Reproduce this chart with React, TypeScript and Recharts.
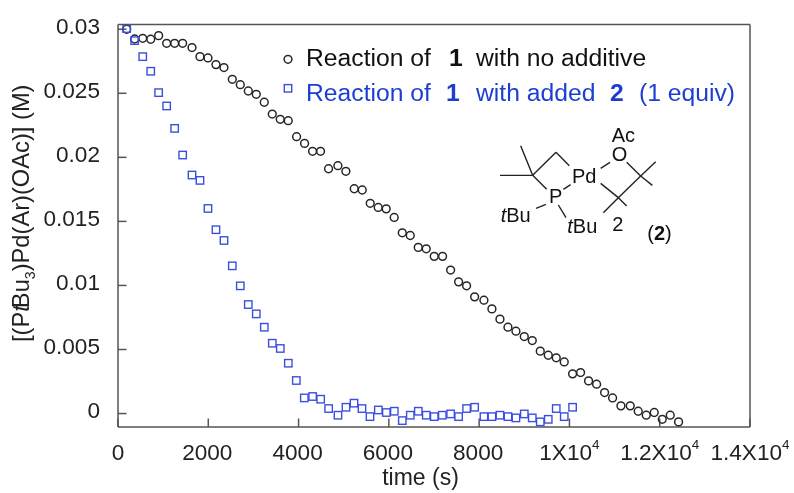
import React from 'react';
import { ScatterChart, Scatter, XAxis, YAxis } from 'recharts';

const xTicks = [0, 2000, 4000, 6000, 8000, 10000, 12000, 14000];
const yTicks = [0, 0.005, 0.01, 0.015, 0.02, 0.025, 0.03];

const noAdditiveTimes = [192, 369, 548, 725, 900, 1078, 1255, 1432, 1639, 1816, 1993, 2170, 2347, 2532, 2709, 2886, 3063, 3240, 3417, 3594, 3771, 3956, 4133, 4310, 4487, 4664, 4871, 5048, 5233, 5410, 5587, 5764, 5941, 6118, 6297, 6474, 6651, 6828, 7005, 7190, 7368, 7545, 7722, 7900, 8106, 8283, 8461, 8638, 8815, 9000, 9177, 9354, 9531, 9708, 9885, 10070, 10247, 10424, 10602, 10779, 10956, 11141, 11347, 11524, 11702, 11879, 12056, 12233, 12418];
const noAdditiveConc = [0.03, 0.02924, 0.02929, 0.02922, 0.0295, 0.0289, 0.0289, 0.0289, 0.02857, 0.02786, 0.02776, 0.02724, 0.02701, 0.02609, 0.02567, 0.02518, 0.02492, 0.0243, 0.02338, 0.02297, 0.02286, 0.02161, 0.02109, 0.02047, 0.02047, 0.01911, 0.01935, 0.01891, 0.01755, 0.01745, 0.01641, 0.01609, 0.01598, 0.01531, 0.01411, 0.0139, 0.01297, 0.01286, 0.01227, 0.01227, 0.0112, 0.01028, 0.00997, 0.00911, 0.00885, 0.00817, 0.00737, 0.00674, 0.00643, 0.00601, 0.0057, 0.00487, 0.00455, 0.00435, 0.00403, 0.0031, 0.0032, 0.00255, 0.00229, 0.00164, 0.00122, 0.0006, 0.0006, 0.00018, -0.00013, 0.00008, -0.00045, -0.00013, -0.00065];

const addedTimes = [192, 369, 548, 725, 900, 1078, 1255, 1432, 1639, 1816, 1993, 2170, 2348, 2532, 2709, 2886, 3063, 3241, 3418, 3595, 3773, 3950, 4127, 4312, 4489, 4666, 4873, 5050, 5228, 5405, 5582, 5767, 5944, 6121, 6298, 6475, 6652, 6829, 7006, 7184, 7368, 7545, 7722, 7900, 8106, 8283, 8461, 8638, 8815, 9000, 9177, 9354, 9531, 9708, 9885, 10070];
const addedConc = [0.03005, 0.02911, 0.02786, 0.02672, 0.02505, 0.02401, 0.02226, 0.02018, 0.01862, 0.0182, 0.01601, 0.01435, 0.01351, 0.01153, 0.00997, 0.00851, 0.00778, 0.00674, 0.00549, 0.00508, 0.00393, 0.00258, 0.00122, 0.00133, 0.00112, 0.00039, -0.00013, 0.00049, 0.00081, 0.00039, -0.00024, 0.00028, 0.00008, 0.00018, -0.00055, -0.00013, 0.00018, -0.00013, -0.00024, -0.00013, -0.00003, -0.00024, 0.00039, 0.00049, -0.00024, -0.00024, -0.00013, -0.00024, -0.00034, -0.00003, -0.00034, -0.00065, -0.00045, 0.00039, -0.00024, 0.00049];

const noAdditiveData = noAdditiveTimes.map((t, i) => ({ t, c: noAdditiveConc[i] }));
const addedData = addedTimes.map((t, i) => ({ t, c: addedConc[i] }));

const FONT = '"Liberation Sans", Arial, sans-serif';
const AXIS = '#555555';
const TEXT = '#222222';
const BLACK = '#262626';
const BLUE = '#3a4fe0';
const BLUE_TEXT = '#1c3ed2';

const bonds = [
  [150, 226, 248, 226], [212, 137, 248, 226], [248, 226, 318, 157], [318, 157, 358, 197],
  [248, 226, 290, 268], [340, 268, 362, 254], [258, 325, 288, 313], [325, 315, 348, 353],
  [452, 205, 480, 187], [530, 187, 572, 228], [572, 228, 617, 185], [572, 228, 607, 256],
  [572, 228, 505, 293], [452, 250, 505, 293], [505, 293, 460, 338], [505, 293, 530, 318],
];

const CircleMark = (p: any) => <circle cx={p.cx} cy={p.cy} r={3.9} fill="none" stroke={BLACK} strokeWidth={1.5} />;
const SquareMark = (p: any) => <rect x={p.cx - 3.7} y={p.cy - 3.7} width={7.4} height={7.4} fill="none" stroke={BLUE} strokeWidth={1.4} />;

const XTick = (p: any) => {
  const v = p.payload.value as number;
  const sci = v >= 10000;
  const mant = v / 10000;
  return (
    <text x={p.x - (sci || v === 0 ? 0 : 1)} y={460} textAnchor="middle" fontFamily={FONT} fontSize={22.6} fill={TEXT}>
      {sci ? (
        <>
          {mant}X10
          <tspan fontSize={13.5} dy={-11}>4</tspan>
        </>
      ) : v}
    </text>
  );
};

const YTick = (p: any) => (
  <text x={100} y={p.y + 4.3} textAnchor="end" fontFamily={FONT} fontSize={22.6} fill={TEXT}>
    {p.payload.value}
  </text>
);

const Overlay = () => (
  <svg width={794} height={493} style={{ position: 'absolute', left: 0, top: 0, pointerEvents: 'none' }} fontFamily={FONT}>
    <text transform="translate(29 342) rotate(-90)" fontSize={23.7} fill={TEXT}>
      [(P<tspan fontStyle="italic">t</tspan><tspan dx={-3}>Bu</tspan>
      <tspan fontSize={14} dy={6}>3</tspan>
      <tspan dy={-6}>)Pd(Ar)(OAc)] (M)</tspan>
    </text>
    <text x={420.5} y={485} textAnchor="middle" fontSize={23} fill={TEXT}>time (s)</text>

    <circle cx={288} cy={59.3} r={3.9} fill="none" stroke={BLACK} strokeWidth={1.5} />
    <rect x={284.3} y={84.6} width={7.4} height={7.4} fill="none" stroke={BLUE} strokeWidth={1.4} />
    <g fontSize={24.7} fill="#111111">
      <text x={306} y={66}>Reaction of</text>
      <text x={449} y={66} fontWeight="bold">1</text>
      <text x={476} y={66}>with no additive</text>
    </g>
    <g fontSize={24.7} fill={BLUE_TEXT}>
      <text x={306} y={100.5}>Reaction of</text>
      <text x={446} y={100.5} fontWeight="bold">1</text>
      <text x={476} y={100.5}>with added</text>
      <text x={610} y={100.5} fontWeight="bold">2</text>
      <text x={639} y={100.5}>(1 equiv)</text>
    </g>

    <g stroke="#222222" strokeWidth={1.4}>
      {bonds.map((b, i) => (
        <line key={i} x1={450 + b[0] / 3} y1={100 + b[1] / 3} x2={450 + b[2] / 3} y2={100 + b[3] / 3} />
      ))}
    </g>
    <g fontSize={20} fill="#111111">
      <text x={572} y={182.7}>Pd</text>
      <text x={549} y={203}>P</text>
      <text x={611.7} y={161}>O</text>
      <text x={611.7} y={142}>Ac</text>
      <text x={500.7} y={221.7}><tspan fontStyle="italic">t</tspan>Bu</text>
      <text x={567.3} y={232.7}><tspan fontStyle="italic">t</tspan>Bu</text>
      <text x={612.3} y={230.7}>2</text>
      <text x={647.3} y={240}>(<tspan fontWeight="bold">2</tspan>)</text>
    </g>
  </svg>
);

export default function App() {
  return (
    <div style={{ position: 'absolute', left: 0, top: 0, width: 794, height: 493, background: '#fff', filter: 'blur(0.45px)' }}>
      <ScatterChart width={794} height={493} margin={{ left: 118, top: 24.5, right: 44, bottom: 66 }}>
        <XAxis type="number" dataKey="t" domain={[0, 14000]} ticks={xTicks} orientation="bottom" mirror height={1}
          interval={0} tickSize={8.5} tick={XTick} stroke={AXIS} strokeWidth={1.5} />
        <XAxis xAxisId="top" type="number" dataKey="t" domain={[0, 14000]} ticks={xTicks} orientation="top" mirror height={1}
          interval={0} tickSize={8.5} tick={false} stroke={AXIS} strokeWidth={1.5} />
        <YAxis type="number" dataKey="c" domain={[-0.00105, 0.03037]} ticks={yTicks} orientation="left" mirror width={1}
          interval={0} tickSize={8.5} tick={YTick} stroke={AXIS} strokeWidth={1.5} allowDataOverflow />
        <YAxis yAxisId="right" type="number" dataKey="c" domain={[-0.00105, 0.03037]} ticks={yTicks} orientation="right" mirror width={1}
          interval={0} tickSize={8.5} tick={false} stroke={AXIS} strokeWidth={1.5} allowDataOverflow />
        <Scatter name="Reaction of 1 with no additive" data={noAdditiveData} shape={CircleMark} isAnimationActive={false} />
        <Scatter name="Reaction of 1 with added 2 (1 equiv)" data={addedData} shape={SquareMark} isAnimationActive={false} />
      </ScatterChart>
      <Overlay />
    </div>
  );
}
